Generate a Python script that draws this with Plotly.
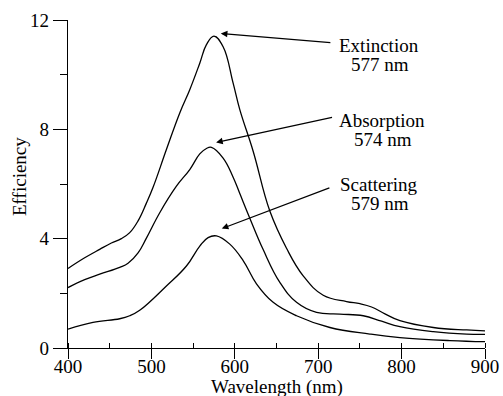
import plotly.graph_objects as go

# Data
ext_wl = [400, 420, 438, 452, 464, 474, 484, 494, 502, 518, 534, 546, 558, 566, 575, 586, 598, 606, 622, 642, 662, 682, 706, 734, 750, 764, 780, 798, 838, 878, 900]
ext_val = [2.91, 3.30, 3.61, 3.84, 4.00, 4.22, 4.65, 5.30, 5.88, 7.26, 8.60, 9.45, 10.42, 11.10, 11.41, 11.02, 9.69, 8.72, 7.20, 5.01, 3.65, 2.64, 1.93, 1.70, 1.62, 1.50, 1.25, 1.00, 0.75, 0.66, 0.63]

abs_wl = [400, 420, 438, 462, 472, 484, 494, 510, 530, 546, 558, 566, 572, 586, 598, 606, 618, 634, 654, 674, 698, 726, 754, 776, 798, 838, 878, 900]
abs_val = [2.21, 2.50, 2.70, 2.95, 3.10, 3.48, 4.02, 4.95, 5.92, 6.53, 7.10, 7.30, 7.34, 6.95, 6.25, 5.65, 4.75, 3.60, 2.40, 1.67, 1.30, 1.24, 1.18, 0.98, 0.78, 0.60, 0.51, 0.50]

sca_wl = [400, 430, 462, 474, 486, 518, 542, 558, 568, 578, 594, 610, 626, 646, 674, 714, 762, 798, 858, 900]
sca_val = [0.69, 0.94, 1.07, 1.18, 1.38, 2.27, 3.00, 3.73, 4.04, 4.10, 3.80, 3.20, 2.35, 1.67, 1.18, 0.75, 0.51, 0.38, 0.27, 0.23]

labels = [("Extinction", "577 nm"), ("Absorption", "574 nm"), ("Scattering", "579 nm")]

FONT = "Liberation Serif"
W, H = 503, 396
ML, MR, MT, MB = 68, 18, 20, 48

fig = go.Figure()
for wl, val in [(ext_wl, ext_val), (abs_wl, abs_val), (sca_wl, sca_val)]:
    fig.add_trace(go.Scatter(x=wl, y=val, mode="lines",
                             line=dict(color="black", width=1.3, shape="spline", smoothing=1.2),
                             showlegend=False, hoverinfo="skip"))

# arrows: (head x, head y, tail x, tail y)
arrows = [(583.2, 11.51, 716.4, 11.17),
          (577.6, 7.52, 718.4, 8.45),
          (584.4, 4.37, 715.2, 5.88)]
for hx, hy, tx, ty in arrows:
    fig.add_annotation(x=hx, y=hy, ax=tx, ay=ty, xref="x", yref="y", axref="x", ayref="y",
                       text="", showarrow=True, arrowhead=2, arrowsize=1.1, arrowwidth=1.2,
                       arrowcolor="black")

# text positions (x, y of line 1, y of line 2) in data units
text_pos = [(773, 11.06, 10.36), (776, 8.34, 7.62), (773, 6.0, 5.29)]
for (l1, l2), (tx, y1, y2) in zip(labels, text_pos):
    fig.add_annotation(x=tx, y=y1, text=l1, showarrow=False, xref="x", yref="y",
                       font=dict(family=FONT, size=19, color="black"))
    fig.add_annotation(x=tx + 1.5, y=y2, text=l2, showarrow=False, xref="x", yref="y",
                       font=dict(family=FONT, size=19, color="black"))

# axis titles as paper-anchored annotations
pw, ph = W - ML - MR, H - MT - MB
fig.add_annotation(text="Wavelength (nm)", xref="paper", yref="paper",
                   x=0.5, y=-(387 - (H - MB)) / ph, yanchor="middle", showarrow=False,
                   font=dict(family=FONT, size=19, color="black"))
fig.add_annotation(text="Efficiency", xref="paper", yref="paper", textangle=-90,
                   x=-(ML - 19) / pw, y=1 - (177 - MT) / ph, xanchor="center", yanchor="middle",
                   showarrow=False, font=dict(family=FONT, size=19, color="black"))

fig.update_layout(
    width=W, height=H,
    margin=dict(l=ML, r=MR, t=MT, b=MB),
    paper_bgcolor="white", plot_bgcolor="white",
    font=dict(family=FONT, size=19, color="black"),
)
fig.update_xaxes(range=[400, 900], tickmode="linear", tick0=400, dtick=100, automargin=False,
                 showgrid=False, zeroline=False, showline=True, linecolor="black", linewidth=1.4,
                 ticks="outside", ticklen=10, tickwidth=1.3, tickcolor="black",
                 ticklabelstandoff=-9,
                 minor=dict(ticks="inside", ticklen=5, dtick=50, tickwidth=1.2, tickcolor="black", showgrid=False),
                 tickfont=dict(family=FONT, size=19))
fig.update_yaxes(range=[0, 12], tickmode="linear", tick0=0, dtick=4, automargin=False,
                 showgrid=False, zeroline=False, showline=True, linecolor="black", linewidth=1.4,
                 ticks="outside", ticklen=14, tickwidth=1.3, tickcolor="black",
                 minor=dict(ticks="outside", ticklen=7, dtick=2, tickwidth=1.2, tickcolor="black", showgrid=False),
                 tickfont=dict(family=FONT, size=19))

fig.write_html("out.html")
